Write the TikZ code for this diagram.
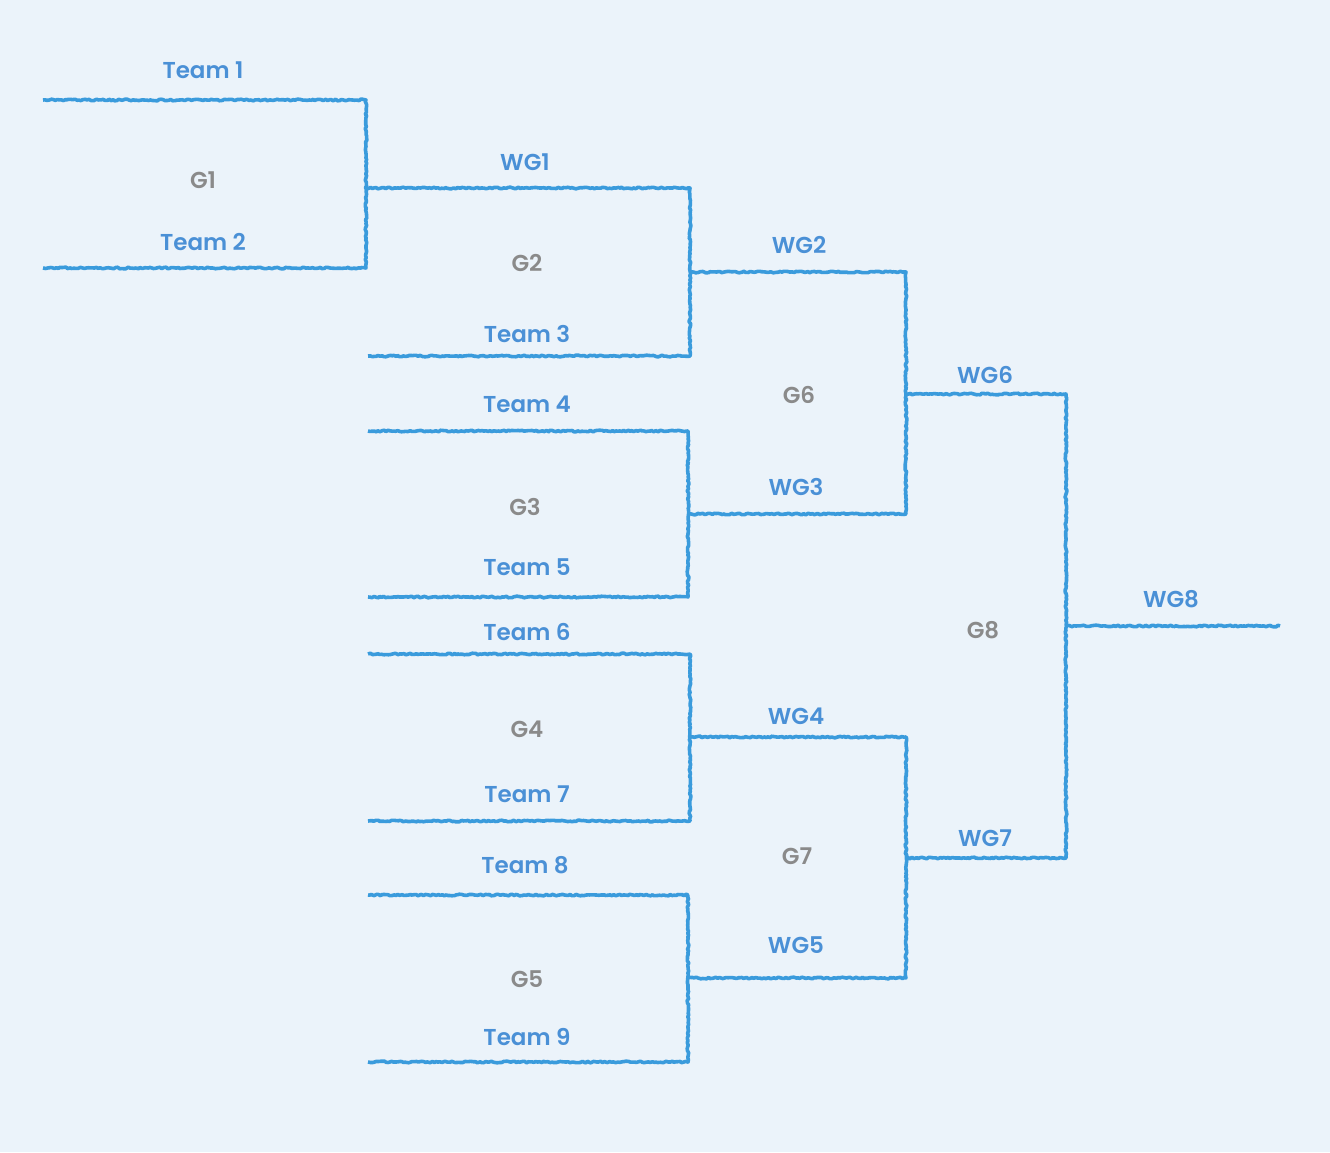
\documentclass[tikz,border=0pt]{standalone}
\usepackage{fontspec}
\setmainfont{Poppins}[UprightFont=* SemiBold]
\usetikzlibrary{decorations.pathmorphing}
\definecolor{bg}{HTML}{EBF3FA}
\definecolor{wire}{HTML}{3A9BDC}
\definecolor{teamc}{HTML}{4A90D6}
\definecolor{gamec}{HTML}{8A8A8A}
\tikzset{
  wirel/.style={draw=wire,line width=3.6pt,line join=round,decorate,decoration={random steps,segment length=2pt,amplitude=0.8pt}},
  teamlbl/.style={text=teamc,font=\fontsize{23}{24}\selectfont,inner sep=0pt},
  gamelbl/.style={text=gamec,font=\fontsize{23}{24}\selectfont,inner sep=0pt}
}
\begin{document}
\begin{tikzpicture}[x=1pt,y=-1pt]
\pgfmathsetseed{7}
\fill[bg] (0,0) rectangle (1330,1152);
\useasboundingbox (0,0) rectangle (1330,1152);
% coordinates
\coordinate (t1a) at (43,100); \coordinate (t1b) at (366,100);
\coordinate (t2a) at (43,268); \coordinate (t2b) at (366,268);
\coordinate (g1o) at (366,188); \coordinate (g1e) at (690,188);
\coordinate (t3a) at (368,356); \coordinate (t3b) at (690,356);
\coordinate (g2o) at (690,272); \coordinate (g2e) at (906,272);
\coordinate (t4a) at (368,431); \coordinate (t4b) at (688,431);
\coordinate (t5a) at (368,597); \coordinate (t5b) at (688,597);
\coordinate (g3o) at (688,514); \coordinate (g3e) at (906,514);
\coordinate (g6o) at (906,394); \coordinate (g6e) at (1066,394);
\coordinate (t6a) at (368,654); \coordinate (t6b) at (690,654);
\coordinate (t7a) at (368,821); \coordinate (t7b) at (690,821);
\coordinate (g4o) at (690,737); \coordinate (g4e) at (906,737);
\coordinate (t8a) at (368,895); \coordinate (t8b) at (688,895);
\coordinate (t9a) at (368,1062); \coordinate (t9b) at (688,1062);
\coordinate (g5o) at (688,978); \coordinate (g5e) at (906,978);
\coordinate (g7o) at (906,858); \coordinate (g7e) at (1066,858);
\coordinate (g8o) at (1066,626); \coordinate (g8e) at (1280,626);
% wires
\path[wirel] (t1a) -- (t1b) -- (t2b) -- (t2a);
\path[wirel] (g1o) -- (g1e) -- (t3b) -- (t3a);
\path[wirel] (t4a) -- (t4b) -- (t5b) -- (t5a);
\path[wirel] (g2o) -- (g2e) -- (g3e) -- (g3o);
\path[wirel] (t6a) -- (t6b) -- (t7b) -- (t7a);
\path[wirel] (t8a) -- (t8b) -- (t9b) -- (t9a);
\path[wirel] (g4o) -- (g4e) -- (g5e) -- (g5o);
\path[wirel] (g6o) -- (g6e) -- (g7e) -- (g7o);
\path[wirel] (g8o) -- (g8e);
% labels
\node[teamlbl] (lt1) at (203,70) {Team 1};
\node[gamelbl] (lg1) at (203,180) {G1};
\node[teamlbl] (lt2) at (203,242) {Team 2};
\node[teamlbl] (lw1) at (525,162) {WG1};
\node[gamelbl] (lg2) at (527,263) {G2};
\node[teamlbl] (lt3) at (527,334) {Team 3};
\node[teamlbl] (lt4) at (527,404) {Team 4};
\node[gamelbl] (lg3) at (525,507) {G3};
\node[teamlbl] (lt5) at (527,567) {Team 5};
\node[teamlbl] (lt6) at (527,632) {Team 6};
\node[gamelbl] (lg4) at (527,729) {G4};
\node[teamlbl] (lt7) at (527,794) {Team 7};
\node[teamlbl] (lt8) at (525,865) {Team 8};
\node[gamelbl] (lg5) at (527,979) {G5};
\node[teamlbl] (lt9) at (527,1037) {Team 9};
\node[teamlbl] (lw2) at (799,245) {WG2};
\node[gamelbl] (lg6) at (799,395) {G6};
\node[teamlbl] (lw3) at (796,487) {WG3};
\node[teamlbl] (lw4) at (796,716) {WG4};
\node[gamelbl] (lg7) at (797,856) {G7};
\node[teamlbl] (lw5) at (796,945) {WG5};
\node[teamlbl] (lw6) at (985,375) {WG6};
\node[teamlbl] (lw7) at (985,838) {WG7};
\node[gamelbl] (lg8) at (983,630) {G8};
\node[teamlbl] (lw8) at (1171,599) {WG8};
\end{tikzpicture}
\end{document}
